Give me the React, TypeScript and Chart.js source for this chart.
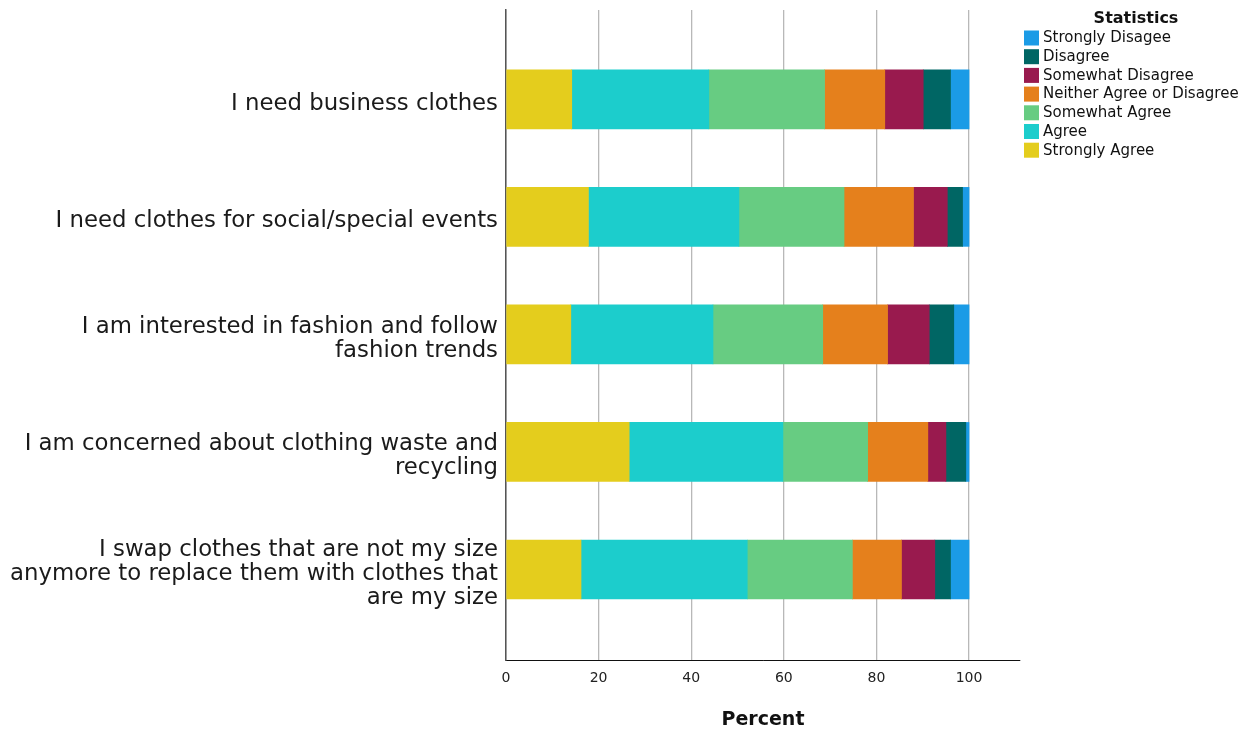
import React, { useEffect, useRef } from "react";
import { Chart, registerables } from "chart.js";

Chart.register(...registerables);

const categories: string[][] = [
  ["I need business clothes"],
  ["I need clothes for social/special events"],
  ["I am interested in fashion and follow", "fashion trends"],
  ["I am concerned about clothing waste and", "recycling"],
  ["I swap clothes that are not my size", "anymore to replace them with clothes that", "are my size"],
];

const stronglyAgree = [14.2, 17.8, 14.0, 26.6, 16.2];
const agree = [29.6, 32.5, 30.7, 33.2, 35.9];
const somewhatAgree = [25.0, 22.7, 23.7, 18.3, 22.7];
const neither = [13.0, 15.0, 14.0, 13.0, 10.6];
const somewhatDisagree = [8.3, 7.3, 9.0, 3.9, 7.2];
const disagree = [5.9, 3.3, 5.3, 4.3, 3.4];
const stronglyDisagree = [4.0, 1.4, 3.3, 0.7, 4.0];

const seriesNames = [
  "Strongly Agree",
  "Agree",
  "Somewhat Agree",
  "Neither Agree or Disagree",
  "Somewhat Disagree",
  "Disagree",
  "Strongly Disagee",
];
const seriesValues = [stronglyAgree, agree, somewhatAgree, neither, somewhatDisagree, disagree, stronglyDisagree];
const seriesColors = ["#e4cd1d", "#1ccdcc", "#67cc82", "#e5801c", "#991a4e", "#006664", "#1b9be6"];

const xTicks = [0, 20, 40, 60, 80, 100];
const FONT = "'DejaVu Sans', sans-serif";

const legendPlugin = {
  id: "customLegend",
  afterDraw(chart: any) {
    const ctx = chart.ctx;
    ctx.save();
    ctx.fillStyle = "#111";
    ctx.font = `bold 16px ${FONT}`;
    ctx.textAlign = "center";
    ctx.textBaseline = "middle";
    ctx.fillText("Statistics", 1136, 19);
    ctx.font = `15px ${FONT}`;
    ctx.textAlign = "left";
    const ds = chart.data.datasets.slice().reverse();
    ds.forEach((d: any, i: number) => {
      const cy = 38 + i * 18.7;
      ctx.fillStyle = d.backgroundColor;
      ctx.fillRect(1024, cy - 7.5, 15, 15);
      ctx.fillStyle = "#111";
      ctx.fillText(d.label, 1043, cy + 0.5);
    });
    ctx.restore();
  },
};

export default function App() {
  const ref = useRef<HTMLCanvasElement | null>(null);
  useEffect(() => {
    if (!ref.current) return;
    const chart = new Chart(ref.current, {
      type: "bar",
      data: {
        datasets: seriesNames.map((name, k) => ({
          label: name,
          data: seriesValues[k].map((v, i) => ({ x: v, y: i })),
          backgroundColor: seriesColors[k],
          borderWidth: 0,
          barThickness: 59,
        })),
      } as any,
      options: {
        indexAxis: "y",
        animation: false,
        responsive: false,
        layout: { padding: { top: 10, right: 234, left: 0, bottom: 0 } },
        plugins: { legend: { display: false }, tooltip: { enabled: false } },
        scales: {
          x: {
            type: "linear",
            stacked: true,
            min: 0,
            max: 111,
            offset: false,
            afterBuildTicks: (axis: any) => {
              axis.ticks = xTicks.map((v) => ({ value: v }));
            },
            afterFit: (axis: any) => {
              axis.height = 72;
              axis.paddingLeft = 0;
              axis.paddingRight = 0;
            },
            grid: { color: "#b8b8b8", lineWidth: 1.3, drawTicks: false, offset: false },
            border: { display: true, color: "#111", width: 1 },
            ticks: { color: "#222", font: { family: FONT, size: 14 }, padding: 10 },
            title: {
              display: true,
              text: "Percent",
              color: "#111",
              font: { family: FONT, size: 19, weight: "bold" },
              padding: { top: 0, bottom: 1 },
            },
          },
          y: {
            type: "linear",
            stacked: true,
            reverse: true,
            offset: false,
            min: -0.76,
            max: 4.77,
            afterBuildTicks: (axis: any) => {
              axis.ticks = categories.map((_, i) => ({ value: i }));
            },
            afterFit: (axis: any) => {
              axis.width = 506;
              axis.paddingTop = 0;
              axis.paddingBottom = 0;
            },
            grid: { display: false, drawTicks: false, offset: false },
            border: { display: true, color: "#555", width: 1.5 },
            ticks: {
              color: "#1a1a1a",
              font: { family: FONT, size: 22.8, lineHeight: 1.05 },
              padding: 8,
              labelOffset: 4.5,
              callback: (v: any) => categories[Math.round(Number(v))] ?? "",
            },
          },
        },
      } as any,
      plugins: [legendPlugin],
    });
    return () => chart.destroy();
  }, []);
  return (
    <div style={{ position: "absolute", left: 0, top: 0, width: 1254, height: 732 }}>
      <canvas ref={ref} width={1254} height={732} />
    </div>
  );
}
